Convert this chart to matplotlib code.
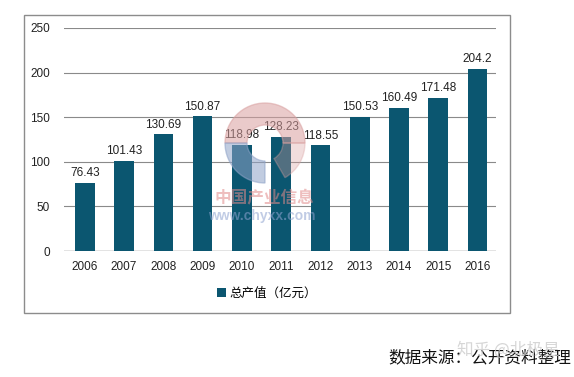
import matplotlib.pyplot as plt
from matplotlib.patches import Rectangle, Wedge, Circle

plt.rcParams['font.family'] = ['Liberation Sans', 'Noto Sans CJK SC', 'DejaVu Sans']

# data
years = ['2006', '2007', '2008', '2009', '2010', '2011', '2012', '2013', '2014', '2015', '2016']
values = [76.43, 101.43, 130.69, 150.87, 118.98, 128.23, 118.55, 150.53, 160.49, 171.48, 204.2]
value_labels = ['76.43', '101.43', '130.69', '150.87', '118.98', '128.23', '118.55',
                '150.53', '160.49', '171.48', '204.2']
series_name = '总产值（亿元）'
yticks = [0, 50, 100, 150, 200, 250]

bar_color = '#0b5670'

fig = plt.figure(figsize=(5.74, 3.77), dpi=100)

# outer frame around the chart
fig.patches.append(Rectangle((24 / 574, 1 - 313 / 377), 486 / 574, 298 / 377,
                             transform=fig.transFigure, fill=False,
                             edgecolor='#8c8c8c', linewidth=1.0))

ax = fig.add_axes([64 / 574, 1 - 251 / 377, 432 / 574, 223 / 377])
x = range(len(years))
bars = ax.bar(x, values, width=0.5, color=bar_color, zorder=3, label=series_name)

for xi, v, lab in zip(x, values, value_labels):
    ax.text(xi, v + 4, lab, ha='center', va='bottom', fontsize=8.5, color='#222222', zorder=4)

ax.set_ylim(0, 250)
ax.set_xlim(-0.53, 10.47)
ax.set_yticks(yticks)
ax.set_xticks(list(x))
ax.set_xticklabels(years)
ax.yaxis.grid(True, color='#8a8a8a', linewidth=0.8, zorder=0)
for s in ax.spines.values():
    s.set_visible(False)
ax.tick_params(axis='both', length=0, labelsize=8.5, colors='#222222')
ax.tick_params(axis='y', pad=10)
ax.tick_params(axis='x', pad=7)
ax.axhline(0, color='#555555', linewidth=0.9, zorder=2)

leg = ax.legend(loc='center', bbox_to_anchor=(267 / 574, 1 - 293 / 377),
                bbox_transform=fig.transFigure, frameon=False, fontsize=9,
                handlelength=0.7, handleheight=0.7, handletextpad=0.3,
                prop={'family': ['Noto Sans CJK SC'], 'size': 9})

# faint centre watermark logo
fax = fig.add_axes([0, 0, 1, 1], zorder=5)
fax.set_xlim(0, 574)
fax.set_ylim(377, 0)
fax.axis('off')
fax.add_patch(Wedge((265, 143), 40, 180, 360, width=22, color='#d9a0a0', alpha=0.55))
fax.add_patch(Wedge((265, 143), 40, 90, 180, width=22, color='#8fa3c8', alpha=0.55))
fax.add_patch(Wedge((265, 143), 40, 0, 60, width=22, color='#d9a0a0', alpha=0.35))
fax.text(264, 197, '中国产业信息', ha='center', va='center', fontsize=12, fontweight='bold',
         color='#e08a8a', alpha=0.55, family=['Noto Sans CJK SC'])
fax.text(262, 216, 'www.chyxx.com', ha='center', va='center', fontsize=10, fontweight='bold',
         color='#8fa3d0', alpha=0.55)

# source note + faint site watermark
fig.text(571 / 574, 1 - 358 / 377, '数据来源：公开资料整理', ha='right', va='center',
         fontsize=12, color='#111111', family=['Noto Sans CJK SC'])
fig.text(457 / 574, 1 - 350 / 377, '知乎 @北极星', ha='left', va='center',
         fontsize=12, color='#cccccc', alpha=0.8, family=['Noto Sans CJK SC'])

fig.savefig('out.png', dpi=100)
